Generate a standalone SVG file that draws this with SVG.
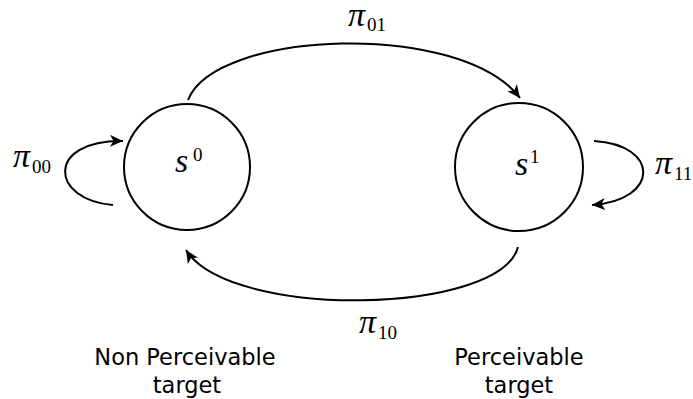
<svg xmlns="http://www.w3.org/2000/svg" width="693" height="399" viewBox="0 0 693 399">
<style>
.st{fill:none;stroke:#000;stroke-width:2}
.edge{fill:none;stroke:#000;stroke-width:2}
.m{font-family:"Liberation Serif",serif;font-style:italic;font-size:34px;fill:#000}
.sub{font-family:"Liberation Serif",serif;font-style:normal;font-size:19px}
.lbl{font-family:"DejaVu Sans",sans-serif;font-size:22.5px;fill:#000;text-anchor:middle}
</style>
<defs>
<marker id="ah" markerUnits="userSpaceOnUse" markerWidth="14" markerHeight="12" refX="13" refY="6" orient="auto">
<path d="M0,0 L13,6 L0,12 L3.5,6 z" fill="#000"/>
</marker>
</defs>
<rect width="693" height="399" fill="#fff"/>
<g id="s0">
<circle class="st" cx="187" cy="167" r="63"/>
<text class="m" x="175" y="172">s<tspan class="sub" x="193" y="161">0</tspan></text>
<text class="lbl" x="185" y="365">Non Perceivable</text>
<text class="lbl" x="187" y="393">target</text>
</g>
<g id="s1">
<circle class="st" cx="519" cy="167" r="64"/>
<text class="m" x="515" y="175">s<tspan class="sub" x="530" y="163">1</tspan></text>
<text class="lbl" x="519" y="365">Perceivable</text>
<text class="lbl" x="519" y="393">target</text>
</g>
<g id="connectors">
<path class="edge" d="M188,100 C215,30 460,20 520,98" marker-end="url(#ah)"/>
<path class="edge" d="M518,247 C500,315 230,320 186,250" marker-end="url(#ah)"/>
<path class="edge" d="M113,205 C50,200 45,140 123,141" marker-end="url(#ah)"/>
<path class="edge" d="M594,141 C660,145 660,200 592,205" marker-end="url(#ah)"/>
<text class="m" x="348" y="26">π<tspan class="sub" x="367" y="31">01</tspan></text>
<text class="m" x="359" y="333">π<tspan class="sub" x="378" y="339">10</tspan></text>
<text class="m" x="13" y="167">π<tspan class="sub" x="32" y="173">00</tspan></text>
<text class="m" x="655" y="174">π<tspan class="sub" x="674" y="180">11</tspan></text>
</g>
</svg>
